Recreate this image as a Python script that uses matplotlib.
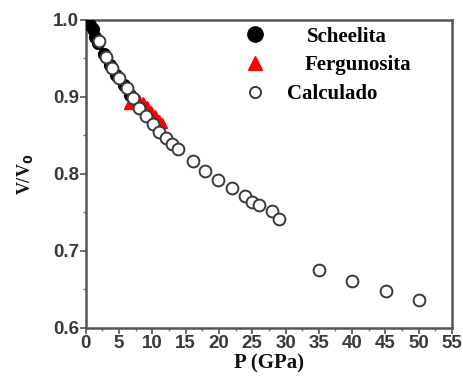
import matplotlib
matplotlib.use("Agg")
import matplotlib.pyplot as plt
from matplotlib.ticker import MultipleLocator, FormatStrFormatter

# Compresión V/V0 frente a presión
p_scheelita = [0.7, 1.1, 1.4, 1.9, 2.8, 3.6, 4.6, 5.7, 6.6]
v_scheelita = [0.993, 0.988, 0.978, 0.970, 0.956, 0.942, 0.929, 0.915, 0.903]

p_fergu = [6.5, 7.3, 8.0, 8.6, 9.2, 9.8, 10.4, 11.0, 11.5]
v_fergu = [0.891, 0.894, 0.896, 0.893, 0.888, 0.882, 0.876, 0.870, 0.866]

p_calc = [2.0, 3.0, 3.9, 5.0, 6.2, 7.1, 8.0, 9.0, 10.1, 11.0, 12.0, 12.9, 13.8,
          16.1, 17.9, 19.9, 21.9, 23.9, 25.0, 26.0, 28.0, 29.0,
          35.0, 40.0, 45.1, 50.1]
v_calc = [0.972, 0.952, 0.938, 0.924, 0.911, 0.898, 0.886, 0.875, 0.865, 0.854,
          0.846, 0.839, 0.832, 0.817, 0.804, 0.792, 0.782, 0.771, 0.764, 0.760,
          0.752, 0.741, 0.675, 0.661, 0.648, 0.636]

serif = ["Liberation Serif", "DejaVu Serif"]
sans = ["Liberation Sans", "DejaVu Sans"]

fig = plt.figure(figsize=(4.64, 3.76), dpi=100)
ax = fig.add_axes([0.185, 0.128, 0.789, 0.819])

ax.plot(p_scheelita, v_scheelita, "o", color="black", ms=8.5, zorder=3,
        label="Scheelita")
ax.plot(p_fergu, v_fergu, "^", color="red", ms=7, mec="red", zorder=4,
        label="Fergunosita")
ax.plot(p_calc, v_calc, "o", mfc="white", mec="#3a3a3a", mew=1.4, ms=8.5,
        zorder=5, label="Calculado")

ax.set_xlim(0, 55)
ax.set_ylim(0.6, 1.0)
ax.xaxis.set_major_locator(MultipleLocator(5))
ax.xaxis.set_minor_locator(MultipleLocator(2.5))
ax.yaxis.set_major_locator(MultipleLocator(0.1))
ax.yaxis.set_minor_locator(MultipleLocator(0.05))
ax.yaxis.set_major_formatter(FormatStrFormatter("%.1f"))

for s in ax.spines.values():
    s.set_color("#555555")
    s.set_linewidth(1.8)
ax.tick_params(which="major", length=4, width=1.2, color="#555555",
               labelcolor="#3a3a3a", labelsize=13.5, pad=1)
ax.tick_params(which="minor", length=2.5, width=1, color="#777777")
for lab in ax.get_xticklabels() + ax.get_yticklabels():
    lab.set_family(sans)
    lab.set_fontweight("bold")

ax.set_xlabel("P (GPa)", family=serif, fontweight="bold", fontsize=15,
              labelpad=1, color="#111111")
ax.set_ylabel("V/V$_\\mathbf{0}$", family=serif, fontweight="bold", fontsize=13,
              labelpad=13, color="#111111")

leg = ax.legend(loc="upper left", bbox_to_anchor=(0.434, 0.978), frameon=False,
                borderpad=0, borderaxespad=0, handlelength=1.0,
                handletextpad=1.05, labelspacing=0.42,
                prop={"family": serif, "weight": "bold", "size": 15})
sizes = [11, 10, 8]
for h, ms in zip(leg.legend_handles, sizes):
    h.set_markersize(ms)
# the first two labels sit a bit further right than the last one
for t, dx in zip(leg.get_texts(), [20, 17, 0]):
    t.set_x(dx)

fig.savefig("out.png", dpi=100)
